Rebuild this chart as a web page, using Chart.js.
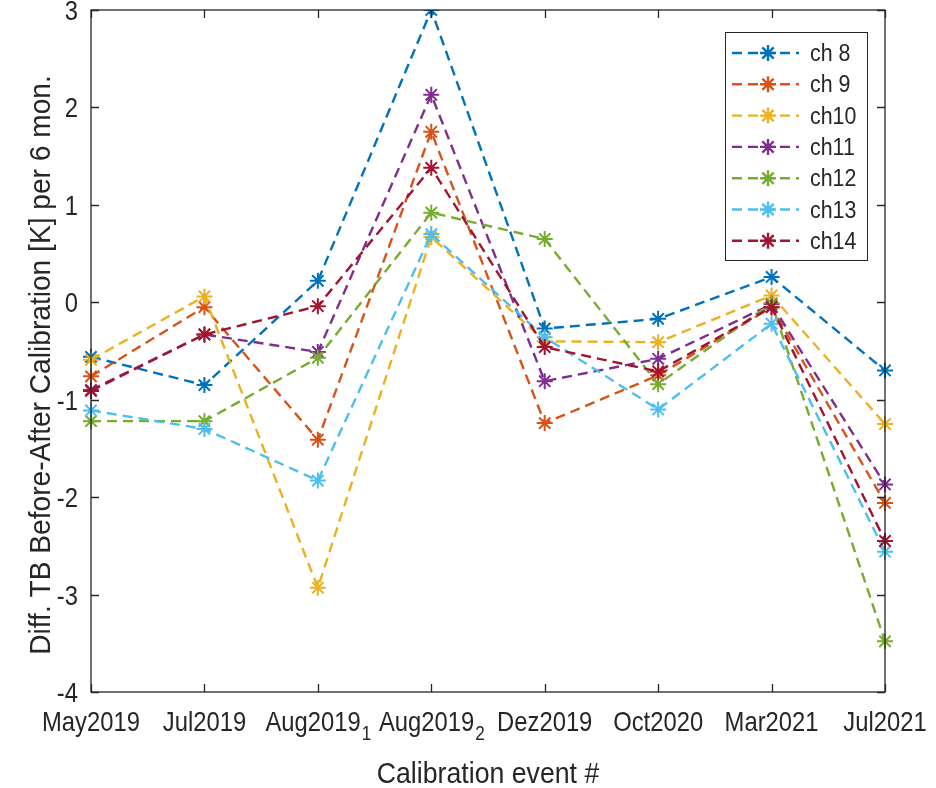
<!DOCTYPE html>
<html>
<head>
<meta charset="utf-8">
<script src="https://cdn.jsdelivr.net/npm/chart.js@4.4.1/dist/chart.umd.min.js"></script>
<style>
  html, body { margin: 0; padding: 0; background: #fff; }
  #wrap { width: 936px; height: 788px; }
</style>
</head>
<body>
<div id="wrap"><canvas id="calChart" width="936" height="788"></canvas></div>
<script>
// calibration events (underscore marks a subscript)
const categories = ['May2019', 'Jul2019', 'Aug2019_1', 'Aug2019_2', 'Dez2019', 'Oct2020', 'Mar2021', 'Jul2021'];
const yTicks = [-4, -3, -2, -1, 0, 1, 2, 3];

const channels = ['ch 8', 'ch 9', 'ch10', 'ch11', 'ch12', 'ch13', 'ch14'];
const colors = ['#0072BD', '#D95319', '#EDB120', '#7E2F8E', '#77AC30', '#4DBEEE', '#A2142F'];

const ch8  = [-0.56, -0.85,  0.22, 3.00, -0.27, -0.17,  0.26, -0.70];
const ch9  = [-0.76, -0.05, -1.41, 1.75, -1.24, -0.75, -0.05, -2.06];
const ch10 = [-0.59,  0.06, -2.93, 0.67, -0.40, -0.41,  0.07, -1.25];
const ch11 = [-0.90, -0.33, -0.51, 2.13, -0.81, -0.58, -0.02, -1.87];
const ch12 = [-1.22, -1.22, -0.57, 0.92,  0.65, -0.84, -0.01, -3.48];
const ch13 = [-1.11, -1.30, -1.83, 0.70, -0.36, -1.10, -0.22, -2.56];
const ch14 = [-0.91, -0.33, -0.04, 1.38, -0.46, -0.71, -0.05, -2.45];
const series = [ch8, ch9, ch10, ch11, ch12, ch13, ch14];

const xTitle = 'Calibration event #';
const yTitle = 'Diff. TB Before-After Calibration [K] per 6 mon.';

const FONT = '"Liberation Sans", Arial, sans-serif';
const TEXT = '#262626';
const AXIS = '#262626';

// draw text slightly condensed like the MATLAB export
function drawText(ctx, str, x, y, size, align, sx) {
	ctx.save();
	ctx.translate(x, y);
	ctx.scale(sx, 1);
	ctx.font = size + 'px ' + FONT;
	ctx.fillStyle = TEXT;
	ctx.textAlign = align;
	ctx.textBaseline = 'alphabetic';
	ctx.fillText(str, 0, 0);
	ctx.restore();
}

const matlabAxes = {
	id: 'matlabAxes',
	afterDatasetsDraw(chart) {
		const { ctx, chartArea: a, scales } = chart;
		const xs = scales.x, ys = scales.y;
		const tl = 8;
		ctx.save();
		ctx.strokeStyle = AXIS;
		ctx.lineWidth = 1.3;
		ctx.strokeRect(a.left, a.top, a.right - a.left, a.bottom - a.top);
		ctx.beginPath();
		categories.forEach((c, i) => {
			const px = Math.round(xs.getPixelForValue(i)) + 0.5;
			ctx.moveTo(px, a.bottom); ctx.lineTo(px, a.bottom - tl);
			ctx.moveTo(px, a.top); ctx.lineTo(px, a.top + tl);
		});
		yTicks.forEach(v => {
			const py = Math.round(ys.getPixelForValue(v)) + 0.5;
			ctx.moveTo(a.left, py); ctx.lineTo(a.left + tl, py);
			ctx.moveTo(a.right, py); ctx.lineTo(a.right - tl, py);
		});
		ctx.stroke();
		ctx.restore();

		// y tick labels
		const ts = 28, sx = 0.85;
		yTicks.forEach(v => {
			const py = ys.getPixelForValue(v);
			drawText(ctx, String(v), a.left - 13, py + 10, ts, 'right', sx);
		});

		// x tick labels with subscripts
		categories.forEach((c, i) => {
			const px = xs.getPixelForValue(i);
			const parts = c.split('_');
			ctx.save();
			ctx.font = ts + 'px ' + FONT;
			const w1 = ctx.measureText(parts[0]).width * sx;
			ctx.font = (ts * 0.72) + 'px ' + FONT;
			const w2 = parts[1] ? ctx.measureText(parts[1]).width * sx : 0;
			ctx.restore();
			const x0 = px - (w1 + w2) / 2;
			drawText(ctx, parts[0], x0, a.bottom + 39, ts, 'left', sx);
			if (parts[1]) drawText(ctx, parts[1], x0 + w1 + 1, a.bottom + 48, ts * 0.72, 'left', sx);
		});

		// axis titles
		drawText(ctx, xTitle, (a.left + a.right) / 2, a.bottom + 91, 29, 'center', 0.92);
		ctx.save();
		ctx.translate(50, 365);
		ctx.rotate(-Math.PI / 2);
		drawText(ctx, yTitle, 0, 0, 29, 'center', 0.97);
		ctx.restore();

		// legend box
		const lx = 725, ly = 32, lw = 142, lh = 228;
		ctx.save();
		ctx.fillStyle = '#fff';
		ctx.fillRect(lx, ly, lw, lh);
		ctx.strokeStyle = '#262626';
		ctx.lineWidth = 1;
		ctx.strokeRect(lx + 0.5, ly + 0.5, lw, lh);
		chart.data.datasets.forEach((ds, i) => {
			const cy = 53 + i * 31.3;
			ctx.strokeStyle = ds.borderColor;
			ctx.lineWidth = ds.borderWidth;
			ctx.setLineDash(ds.borderDash);
			ctx.beginPath();
			ctx.moveTo(lx + 7, cy);
			ctx.lineTo(lx + 74, cy);
			ctx.stroke();
			ctx.setLineDash([]);
			Chart.helpers.drawPoint(ctx, {
				pointStyle: 'star', radius: ds.pointRadius, borderWidth: ds.pointBorderWidth, rotation: 0
			}, lx + 43, cy);
			drawText(ctx, ds.label, lx + 85, cy + 8, 23, 'left', 0.93);
		});
		ctx.restore();
	}
};

const ctx = document.getElementById('calChart').getContext('2d');

new Chart(ctx, {
	type: 'line',
	data: {
		labels: categories,
		datasets: series.map((d, i) => ({
			label: channels[i],
			data: d,
			borderColor: colors[i],
			backgroundColor: colors[i],
			borderWidth: 2.4,
			borderDash: [10, 6],
			pointStyle: 'star',
			pointRadius: 8,
			pointBorderWidth: 2,
			pointBorderColor: colors[i],
			fill: false,
			tension: 0,
			order: series.length - i,
			clip: { left: false, top: 0, right: false, bottom: false }
		}))
	},
	options: {
		responsive: false,
		animation: false,
		devicePixelRatio: 1,
		layout: { padding: { left: 91, top: 10, right: 51, bottom: 96 } },
		plugins: {
			legend: { display: false },
			title: { display: false },
			tooltip: { enabled: false }
		},
		scales: {
			x: {
				type: 'category',
				offset: false,
				ticks: { display: false },
				grid: { display: false, drawTicks: false },
				border: { display: false }
			},
			y: {
				min: -4,
				max: 3,
				ticks: { display: false, stepSize: 1 },
				grid: { display: false, drawTicks: false },
				border: { display: false }
			}
		}
	},
	plugins: [matlabAxes]
});
</script>
</body>
</html>
